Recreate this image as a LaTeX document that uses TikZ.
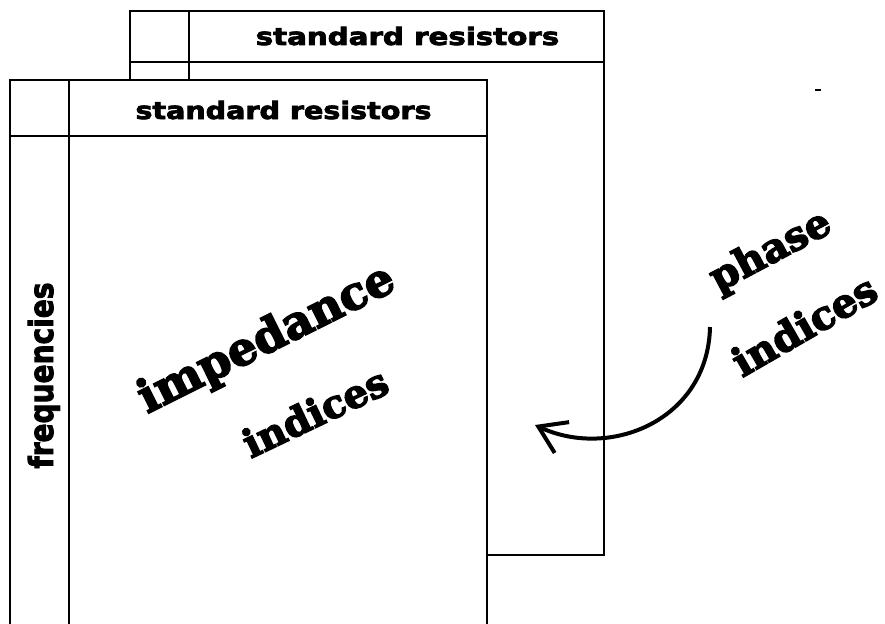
\documentclass[tikz,border=0pt]{standalone}
\usepackage{fontspec}
\setmainfont{Liberation Sans}
\newfontfamily\hdrfont{DejaVu Sans}[BoldFeatures={FakeBold=3}]
\newfontfamily\slabfont{DejaVu Serif}[BoldFeatures={FakeBold=3.5}]
\usetikzlibrary{arrows.meta}
\begin{document}
\begin{tikzpicture}[x=1pt,y=-1pt,
  frame/.style={line width=1.4pt},
  hdr/.style={font=\hdrfont\bfseries\fontsize{24}{24}\selectfont, inner sep=0pt, anchor=base},
  freqtxt/.style={font=\hdrfont\bfseries\fontsize{33}{33}\selectfont, inner sep=0pt, anchor=base, rotate=90},
  big/.style={font=\slabfont\bfseries\fontsize{40}{40}\selectfont, inner sep=0pt},
  curvearrow/.style={line width=4pt, -{Straight Barb[length=26pt,width=34pt]}}
  ]
\useasboundingbox (0,0) rectangle (885,623);
% back sheet
\draw[frame] (130,11) rectangle (604,555);
\draw[frame] (130,62) -- (604,62);
\draw[frame] (189,11) -- (189,80);
% front sheet
\draw[frame, fill=white] (10,630) -- (10,80) -- (487,80) -- (487,630);
\draw[frame] (10,136) -- (487,136);
\draw[frame] (69,80) -- (69,630);
% headers
\node[hdr] (hdrback) at (407.5,45) {\scalebox{1.22}[1]{standard resistors}};
\node[hdr] (hdrfront) at (283.5,119) {\scalebox{1.19}[1]{standard resistors}};
\node[freqtxt] (freq) at (53,375.5) {\scalebox{0.85}[1]{frequencies}};
% serif labels
\node[big, font=\slabfont\bfseries\fontsize{46}{46}\selectfont, rotate=26.5] (imp) at (267,340) {impedance};
\node[big, font=\slabfont\bfseries\fontsize{39}{39}\selectfont, rotate=25.5] (ind) at (315,412) {indices};
\node[big, rotate=28] (phase) at (771,252) {phase};
\node[big, rotate=30] (ind2) at (804,325) {indices};
% arrow
\coordinate (arrS) at (710,327);
\coordinate (arrE) at (535,425);
\draw[curvearrow] (arrS) .. controls (708,420) and (610,460) .. (arrE);
% small mark
\coordinate (markA) at (815,90);
\coordinate (markB) at (821,90);
\draw[line width=2.5pt] (markA) -- (markB);
\end{tikzpicture}
\end{document}
